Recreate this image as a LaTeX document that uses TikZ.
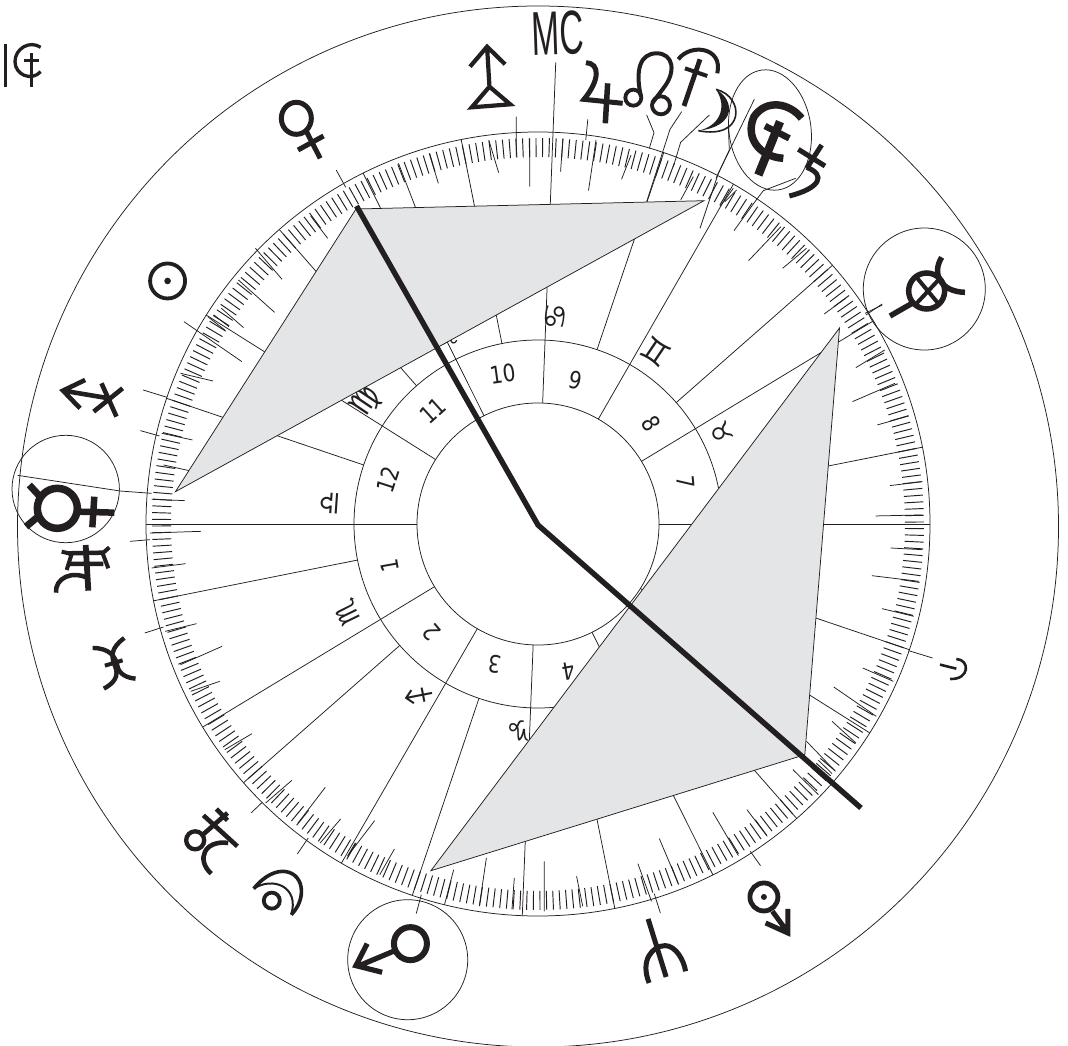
\documentclass[tikz,border=0pt]{standalone}
\usepackage{fontspec}
\setmainfont{DejaVu Sans}
\newfontfamily\zodfont{DejaVu Sans}
\newfontfamily\mcfont{Liberation Sans}
\definecolor{ink}{HTML}{231F20}
\definecolor{tri}{HTML}{E4E5E7}
\tikzset{
  thin line/.style={draw=ink,line width=.75pt},
  gl/.style={draw=ink,line width=#1,line cap=butt,line join=miter},
  gl/.default=3.5pt,
  q1/.style={x=.3406pt,y=-.3333pt},
  q2/.style={q1,xshift=534pt},
  q3/.style={q1,yshift=-523pt},
  q4/.style={q1,xshift=534pt,yshift=-523pt},
  zm/.style={x=.3333pt,y=-.3333pt},
  house/.style={text=ink,font=\fontsize{24}{24}\selectfont,inner sep=0pt},
  sign/.style={text=ink,font=\fontsize{28}{28}\selectfont\zodfont,inner sep=0pt},
}
\newcommand{\nar}[1]{\scalebox{.84}[1]{#1}}
\begin{document}
\begin{tikzpicture}[x=1pt,y=-1pt]
\useasboundingbox (0,0) rectangle (1068,1046);
\clip (0,0) rectangle (1068,1046);
\fill[white] (0,0) rectangle (1068,1046);
% main circles
\draw[thin line] (538,526.5) circle[radius=520.5pt];
\draw[thin line] (538,524) circle[radius=392pt];
\draw[thin line] (538,524) circle[radius=184pt];
\draw[thin line] (538,524) circle[radius=121pt];
% aspect circles
\draw[thin line] (65.7,489) circle[radius=53.7pt];
\draw[thin line] (924.3,289) circle[radius=61pt];
\draw[thin line] (407.7,959.7) circle[radius=60pt];
\draw[thin line] (770,130) ellipse[x radius=41pt,y radius=60.5pt,rotate=8];
% degree ticks
\foreach \a in {0,...,359}
  \draw[draw=ink,line width=.95pt] ({538+367*cos(\a+.3)},{524-367*sin(\a+.3)}) -- ({538+386*cos(\a+.3)},{524-386*sin(\a+.3)});
% sign cusps
\foreach \a in {11.3,41.3,71.3,101.3,131.3,161.3,191.3,221.3,251.3,281.3,311.3,341.3}
  \draw[thin line] ({538+184*cos(\a)},{524-184*sin(\a)}) -- ({538+392*cos(\a)},{524-392*sin(\a)});
% house cusps
\foreach \a in {0,31.2,60.1,116.5,147.8,180,211.2,239.9,267.7,296.5,327.8}
  \draw[thin line] ({538+121*cos(\a)},{524-121*sin(\a)}) -- ({538+392*cos(\a)},{524-392*sin(\a)});
\draw[thin line] ({538+121*cos(87.8)},{524-121*sin(87.8)}) -- ({538+462*cos(87.8)},{524-462*sin(87.8)});
% sign glyphs
\node[sign,rotate=86]  (libra) at (330,503.5) {♎};
\node[sign,rotate=116] (scorp) at (348,612) {♏};
\node[sign,rotate=146] (sagit) at (419.6,696.3) {♐};
\node[sign,rotate=176] (capri) at (519.4,731.3) {♑};
\node[sign,rotate=-64,font=\fontsize{25}{25}\selectfont\zodfont] (tauru) at (722,432.7) {♉};
\node[sign,rotate=-34,font=\fontsize{32}{32}\selectfont\zodfont] (gemin) at (656,351.7) {♊};
\node[sign,rotate=-94,font=\fontsize{30}{30}\selectfont\zodfont]  (cance) at (554.4,317) {♋};
\node[sign,rotate=26]  (leo)   at (446,337) {♌};
\node[sign,rotate=56,font=\fontsize{32}{32}\selectfont\zodfont]  (virgo) at (366,401.7) {♍};
% long ticks and pointers
\begin{scope}[q1]
\draw[thin line] (1516,350)--(1516,470) (1555,415)--(1555,560) (1435,420)--(1464,518) (1260,460)--(1287,550) (1170,490)--(1222,628) (987,510)--(1015,562) (912,648)--(962,715) (750,745)--(828,838) (700,840)--(806,937) (610,950)--(660,990) (628,945)--(672,980) (650,925)--(715,983) (540,965)--(710,1085) (530,1120)--(625,1143) (420,1170)--(490,1192) (412,1292)--(468,1308) (475,1300)--(565,1320) (480,1395)--(555,1412) (445,1498)--(542,1502);
\end{scope}
\begin{scope}[q3]
\draw[thin line] (382,55)--(440,50) (440,30)--(590,25) (445,135)--(545,122) (425,330)--(480,312) (485,325)--(577,302) (530,425)--(652,370) (560,505)--(645,475) (660,680)--(740,632) (737,870)--(770,838) (780,840)--(857,772) (875,900)--(955,793) (873,993)--(905,945) (940,960)--(1000,888) (1020,1000)--(1100,893) (1020,1000)--(1043,960) (1115,1055)--(1158,978) (1222,1172)--(1237,1115) (1305,1145)--(1332,1040) (1407,1150)--(1428,1005) (1503,1160)--(1510,1065);
\end{scope}
\begin{scope}[q4]
\draw[thin line] (30,1165)--(30,1015) (125,1060)--(143,1150) (305,1022)--(345,1135) (368,947)--(425,1085) (525,868)--(600,998) (625,860)--(685,940) (353,1112)--(371,1170) (635,985)--(665,1028) (760,740)--(835,815) (800,655)--(885,745) (835,712)--(875,752) (875,595)--(945,660) (880,492)--(1005,580) (965,435)--(1055,475) (1022,257)--(1115,280) (992,158)--(1130,175) (1047,75)--(1140,80) (1100,383)--(1170,405);
\end{scope}
\begin{scope}[q2]
\draw[thin line] (85,415)--(78,515) (158,358)--(152,420) (182,420)--(160,572) (285,465)--(257,538) (630,782)--(725,680) (730,805)--(800,745) (852,942)--(915,895) (975,945)--(1022,912) (945,1103)--(1030,1050) (935,1205)--(1060,1150) (1008,1275)--(1100,1248) (1045,1457)--(1140,1445) (1003,1548)--(1140,1545);
\end{scope}
\begin{scope}[zm,xshift=630pt,yshift=-60pt]
\draw[thin line] (50,165)--(72,218)--(58,265);
\draw[thin line] (155,155)--(120,208)--(50,425);
\draw[thin line] (238,165)--(152,247)--(130,320);
\draw[thin line] (190,350)--(152,420);
\draw[thin line] (373,118)--(265,340)--(210,505);
\draw[thin line] (295,200)--(298,270)--(258,355);
\draw[thin line] (270,440)--(310,385) (285,425)--(320,390);
\draw[thin line] (497,355)--(400,392)--(375,425)--(312,512);
\end{scope}
\begin{scope}[zm,yshift=-430pt]
\draw[thin line] (53,136)--(360,183)--(455,190);
\end{scope}
% triangles
\draw[thin line,fill=tri,line join=miter] (356,209)--(704,200.7)--(175.4,491.7)--cycle;
\draw[thin line,fill=tri,line join=miter] (839.5,328)--(430.9,870.7)--(804.8,754.7)--cycle;
% house numbers
\node[house,rotate=8]    (h10) at (502.7,374) {\nar{10}};
\node[house,rotate=-12]  (h9)  at (576,380.7) {\nar{9}};
\node[house,rotate=-60]  (h8)  at (651.7,424) {\nar{8}};
\node[house,rotate=-85]  (h7)  at (686,481.7) {\nar{7}};
\node[house,rotate=42]   (h11) at (432.7,410.7) {\nar{11}};
\node[house,rotate=72]   (h12) at (387.7,480) {\nar{12}};
\node[house,rotate=100]  (h1)  at (389.3,566) {\nar{1}};
\node[house,rotate=130]  (h2)  at (431.7,632.3) {\nar{2}};
\node[house,rotate=172]  (h3)  at (495,664) {\nar{3}};
\node[house,rotate=190]  (h4)  at (568.3,671) {\nar{4}};
% MC
\node[text=ink,inner sep=0pt,rotate=2,font=\fontsize{62}{62}\selectfont\mcfont] (mc) at (558,33.5) {\scalebox{.54}[1]{MC}};
% planet glyphs, zoom 1 frame
\begin{scope}[q1]
\draw[gl=5pt] (870,355) ellipse[x radius=15pt,y radius=16pt];
\draw[gl=5pt] (900,395)--(940,475);
\draw[gl=5pt] (875,450)--(950,408);
\draw[gl=3.8pt] (492,843) circle[radius=17.5pt];
\fill[ink] (492,843) circle[radius=3.3pt];
\draw[gl=4.6pt] (250,1140)--(185,1172)--(235,1225) (185,1172)--(320,1195) (275,1235)--(360,1165) (298,1150)--(342,1250);
\draw[gl=4.2pt] (1380,200)--(1430,140)--(1483,193) (1430,140)--(1437,260) (1437,260)--(1385,322)--(1498,313)--cycle;
\end{scope}
% zoom 6 frame: Jupiter, node, dagger
\begin{scope}[zm,xshift=460pt]
\draw[gl=5pt] (378,188) .. controls (420,190) and (420,240) .. (372,298) -- (488,310);
\draw[gl=5.5pt] (443,250)--(436,370);
\draw[gl=3.8pt] (520,293) circle[radius=8pt];
\draw[gl=3.8pt] (603,316) circle[radius=9pt];
\draw[gl=4pt] (543,290) .. controls (525,210) and (540,160) .. (590,160) .. controls (640,160) and (650,215) .. (610,265) -- (578,308);
\draw[gl=4pt] (655,178) .. controls (690,130) and (790,140) .. (772,220);
\draw[gl=4.8pt] (720,178)--(672,318);
\draw[gl=4pt] (675,205)--(742,228);
\end{scope}
% zoom 7 frame: moon, large glyph, saturn
\begin{scope}[zm,xshift=630pt,yshift=-60pt]
\fill[ink] (258,88) .. controls (315,120) and (320,200) .. (205,212) .. controls (265,200) and (295,145) .. (258,88) -- cycle;
\draw[gl=1.6pt] (258,88) .. controls (345,110) and (345,240) .. (205,212);
\draw[gl=7.5pt] (515,175) .. controls (480,130) and (410,115) .. (372,170) .. controls (345,230) and (385,290) .. (460,295);
\draw[gl=8.5pt] (450,185)--(385,345);
\draw[gl=6.5pt] (405,198)--(478,235);
\draw[gl=5pt] (575,255)--(530,325);
\draw[gl=5pt] (505,268)--(585,318);
\draw[gl=5pt] (530,322) .. controls (590,345) and (570,385) .. (478,408);
\end{scope}
% zoom 8 frame
\begin{scope}[zm,yshift=-430pt]
\draw[gl=7.5pt] (172,235) circle[radius=20pt];
\draw[gl=7pt] (88,165)--(125,205) (78,290)--(120,255);
\draw[gl=6.5pt] (235,245)--(343,248);
\draw[gl=6.5pt] (283,200)--(277,292);
\draw[gl=5.8pt] (257,345)--(265,482);
\draw[gl=4.5pt] (205,370)--(310,368) (205,402)--(310,402);
\draw[gl=4pt] (185,365)--(215,372)--(200,420) (328,352)--(308,370)--(325,415);
\draw[gl=4.5pt] (168,488) .. controls (165,445) and (215,420) .. (265,445);
\end{scope}
% zoom 9 frame
\begin{scope}[zm,yshift=-30pt]
\draw[gl=3.3pt] (17,42)--(17,172);
\draw[gl=3.3pt] (122,52) .. controls (90,30) and (45,55) .. (45,95) .. controls (45,135) and (95,155) .. (122,125);
\draw[gl=3.3pt] (95,70)--(95,172) (72,92)--(118,92);
\end{scope}
% zoom 10 frame
\begin{scope}[zm,xshift=860pt,yshift=-230pt]
\draw[gl=5.5pt] (200,183) circle[radius=18pt];
\draw[gl=4pt] (168,140)--(236,222) (168,222)--(240,145);
\draw[gl=5.5pt] (90,258)--(165,215);
\draw[gl=5.5pt] (245,82) .. controls (215,130) and (240,185) .. (315,187);
\draw[thin line] (15,250)--(67,225);
\end{scope}
% zoom 3 frame
\begin{scope}[q3]
\draw[gl=6pt] (1205,1262) circle[radius=16.5pt];
\draw[gl=5.2pt] (1155,1285)--(1055,1328) (1078,1262)--(1045,1328)--(1122,1348);
\draw[gl=3.6pt] (745,1097) .. controls (810,1015) and (885,1040) .. (885,1105) .. controls (885,1135) and (870,1160) .. (855,1175);
\draw[gl=2pt] (745,1097) .. controls (800,1060) and (880,1090) .. (855,1175);
\draw[gl=3.8pt] (798,1133) circle[radius=8pt];
\draw[gl=4.3pt] (573,952) circle[radius=9pt];
\draw[gl=4.6pt] (597,877)--(697,970) (590,940)--(668,870) (635,858)--(668,892);
\draw[gl=4.6pt] (620,1052) .. controls (575,1010) and (600,950) .. (670,960);
\draw[gl=4.4pt] (272,375) .. controls (320,375) and (340,400) .. (345,430) .. controls (350,455) and (375,465) .. (398,467);
\draw[gl=4.4pt] (365,345) .. controls (325,375) and (325,400) .. (338,430) .. controls (350,460) and (335,480) .. (305,497);
\draw[gl=4pt] (308,428)--(360,412);
\end{scope}
% zoom 4 frame
\begin{scope}[q4]
\draw[gl=4.8pt] (675,1122) circle[radius=14pt];
\fill[ink] (675,1122) circle[radius=3pt];
\draw[gl=5pt] (700,1165)--(745,1228) (680,1200)--(745,1230)--(745,1158);
\draw[gl=5pt] (335,1188)--(388,1362);
\draw[gl=5pt] (338,1380) .. controls (310,1310) and (350,1268) .. (385,1268) .. controls (415,1268) and (440,1310) .. (445,1345);
\draw[gl=2.6pt] (1192,425)--(1240,437) (1240,408) .. controls (1280,410) and (1280,470) .. (1222,468);
\end{scope}
% thick radial line
\draw[draw=ink,line width=5.4pt,line join=miter] (356.5,206)--(538,525)--(861,808);
\end{tikzpicture}
\end{document}
